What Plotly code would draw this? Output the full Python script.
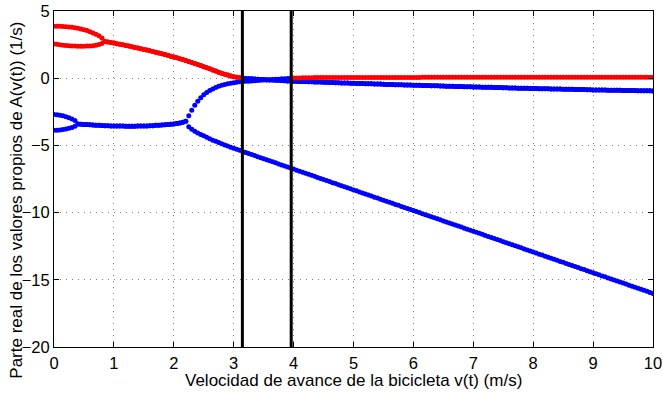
import plotly.graph_objects as go

# Velocidad de avance (m/s), paso de 0.05
v = [round(0.05 * i, 2) for i in range(201)]

# Parte real de los autovalores de A(v) por modo --------------------------
# v = 0.00 .. 0.80 : dos autovalores reales positivos
re_pos_sup = [3.86, 3.86, 3.86, 3.85, 3.83, 3.81, 3.79, 3.76, 3.72, 3.67,
              3.61, 3.54, 3.46, 3.37, 3.27, 3.15, 3.00]
re_pos_inf = [2.55, 2.52, 2.49, 2.46, 2.44, 2.42, 2.40, 2.39, 2.38, 2.38,
              2.38, 2.39, 2.40, 2.42, 2.45, 2.50, 2.58]

# v = 0.00 .. 0.35 : dos autovalores reales negativos
re_neg_sup = [-2.70, -2.72, -2.75, -2.80, -2.87, -2.94, -3.03, -3.14]
re_neg_inf = [-3.88, -3.87, -3.85, -3.82, -3.78, -3.73, -3.67, -3.58]

# v = 0.40 .. 2.20 : par complejo estable
re_par_neg = [-3.40, -3.42, -3.44, -3.45, -3.47, -3.48, -3.50, -3.51, -3.52, -3.53,
              -3.54, -3.55, -3.55, -3.56, -3.56, -3.56, -3.57, -3.57, -3.57, -3.57,
              -3.56, -3.56, -3.55, -3.55, -3.54, -3.53, -3.51, -3.50, -3.48, -3.46,
              -3.44, -3.42, -3.40, -3.37, -3.33, -3.28, -3.21]

# v = 0.85 .. 10.00 : modo de oscilacion (weave)
re_oscilacion = [
    2.73, 2.69, 2.65, 2.61, 2.57, 2.52, 2.48, 2.43, 2.39, 2.34,
    2.29, 2.24, 2.19, 2.14, 2.09, 2.04, 1.98, 1.93, 1.87, 1.82,
    1.76, 1.70, 1.64, 1.58, 1.52, 1.45, 1.39, 1.32, 1.25, 1.17,
    1.10, 1.02, 0.94, 0.86, 0.78, 0.70, 0.61, 0.53, 0.45, 0.37,
    0.30, 0.23, 0.17, 0.11, 0.07, 0.03,
    -0.01, -0.02, -0.04, -0.05, -0.06, -0.08, -0.09, -0.10, -0.11, -0.13,
    -0.14, -0.15, -0.16, -0.18, -0.19, -0.20, -0.21, -0.22,
    -0.23, -0.24, -0.24, -0.25, -0.26, -0.27, -0.28, -0.28, -0.29, -0.30,
    -0.31, -0.32, -0.32, -0.33, -0.34, -0.35, -0.36, -0.36, -0.37, -0.38,
    -0.39, -0.39, -0.40, -0.41, -0.42, -0.42, -0.43, -0.44, -0.44, -0.45,
    -0.46, -0.46, -0.47, -0.48, -0.49, -0.49, -0.50, -0.51, -0.51, -0.52,
    -0.53, -0.53, -0.54, -0.55, -0.55, -0.56, -0.57, -0.57, -0.58, -0.58,
    -0.59, -0.60, -0.60, -0.61, -0.62, -0.62, -0.63, -0.64, -0.64, -0.65,
    -0.65, -0.66, -0.67, -0.67, -0.68, -0.68, -0.69, -0.69, -0.70, -0.71,
    -0.71, -0.72, -0.72, -0.73, -0.74, -0.74, -0.75, -0.75, -0.76, -0.77,
    -0.77, -0.78, -0.78, -0.79, -0.79, -0.80, -0.80, -0.81, -0.81, -0.82,
    -0.82, -0.83, -0.83, -0.84, -0.84, -0.85, -0.85, -0.86, -0.86, -0.87,
    -0.87, -0.88, -0.88, -0.88, -0.89, -0.89, -0.90, -0.90, -0.90, -0.91,
    -0.91, -0.92, -0.92, -0.92, -0.93, -0.93, -0.94, -0.94, -0.94, -0.95]

# v = 2.25 .. 10.00 : modo de vuelco (capsize)
re_vuelco = [
    -2.80, -2.38, -2.02, -1.72, -1.46, -1.24, -1.06, -0.92, -0.80, -0.69,
    -0.60, -0.52, -0.46, -0.41, -0.37, -0.33, -0.30, -0.27, -0.25,
    -0.23, -0.22, -0.20, -0.19, -0.17, -0.16, -0.14, -0.13, -0.11, -0.10,
    -0.08, -0.07, -0.05, -0.04, -0.02, -0.01,
    0.01, 0.02, 0.02, 0.03, 0.03, 0.04, 0.04, 0.05, 0.05, 0.05, 0.05,
    0.05, 0.05, 0.05, 0.05, 0.05, 0.06, 0.06, 0.06, 0.06, 0.06,
    0.06, 0.06, 0.06, 0.06, 0.06, 0.06, 0.06, 0.06, 0.06, 0.06,
    0.06, 0.06, 0.06, 0.06, 0.06, 0.06, 0.06, 0.06, 0.06, 0.06,
    0.06, 0.06, 0.07, 0.07, 0.07, 0.07, 0.07, 0.07, 0.07, 0.07,
    0.07, 0.07, 0.07, 0.07, 0.07, 0.07, 0.07, 0.07, 0.07, 0.07,
    0.07, 0.07, 0.07, 0.07, 0.07, 0.07, 0.07, 0.07, 0.07, 0.07,
    0.07, 0.07, 0.07, 0.07, 0.07, 0.07, 0.07, 0.07, 0.07, 0.07,
    0.07, 0.07, 0.07, 0.07, 0.07, 0.07, 0.07, 0.07, 0.07, 0.07,
    0.07, 0.07, 0.07, 0.07, 0.07, 0.07, 0.07, 0.07, 0.07, 0.07,
    0.07, 0.07, 0.07, 0.07, 0.07, 0.07, 0.07, 0.07, 0.07, 0.07,
    0.07, 0.07, 0.07, 0.07, 0.07, 0.07, 0.07, 0.07, 0.07, 0.07]

# v = 2.25 .. 10.00 : modo de avance (castor)
re_avance = [
    -3.62, -3.80, -3.95, -4.07, -4.18, -4.29, -4.40, -4.50, -4.61, -4.70,
    -4.79, -4.88, -4.97, -5.05, -5.13, -5.21, -5.29, -5.37, -5.45,
    -5.53, -5.61, -5.68, -5.76, -5.84, -5.92, -5.99, -6.07, -6.15, -6.22,
    -6.30, -6.38, -6.46, -6.53, -6.61, -6.69, -6.76, -6.84, -6.92, -7.00,
    -7.07, -7.15, -7.23, -7.30, -7.38, -7.46, -7.54, -7.61, -7.69, -7.77,
    -7.84, -7.92, -8.00, -8.07, -8.15, -8.23, -8.31, -8.38, -8.46, -8.54,
    -8.61, -8.69, -8.77, -8.85, -8.92, -9.00, -9.08, -9.15, -9.23, -9.31,
    -9.39, -9.46, -9.54, -9.62, -9.69, -9.77, -9.85, -9.92, -10.00, -10.08,
    -10.16, -10.23, -10.31, -10.39, -10.46, -10.54, -10.62, -10.70, -10.77, -10.85,
    -10.93, -11.00, -11.08, -11.16, -11.24, -11.31, -11.39, -11.47, -11.54, -11.62,
    -11.70, -11.78, -11.85, -11.93, -12.01, -12.08, -12.16, -12.24, -12.31, -12.39,
    -12.47, -12.55, -12.62, -12.70, -12.78, -12.85, -12.93, -13.01, -13.09, -13.16,
    -13.24, -13.32, -13.39, -13.47, -13.55, -13.63, -13.70, -13.78, -13.86, -13.93,
    -14.01, -14.09, -14.17, -14.24, -14.32, -14.40, -14.47, -14.55, -14.63, -14.71,
    -14.78, -14.86, -14.94, -15.01, -15.09, -15.17, -15.24, -15.32, -15.40, -15.48,
    -15.55, -15.63, -15.71, -15.78, -15.86, -15.94, -16.02]

# Velocidades de estabilidad: oscilacion y vuelco (m/s)
velocidades_criticas = [3.145, 3.96]

x_ticks = [0, 1, 2, 3, 4, 5, 6, 7, 8, 9, 10]
y_ticks = [5, 0, -5, -10, -15, -20]
x_lim = [0, 10]
y_lim = [-20, 5]

# (primer indice de v, valores) para cada rama
ramas = [
    (0, re_pos_sup), (0, re_pos_inf),
    (0, re_neg_sup), (0, re_neg_inf),
    (8, re_par_neg), (8, re_par_neg),
    (17, re_oscilacion), (17, re_oscilacion),
    (45, re_vuelco), (45, re_avance),
]

xs_pos, ys_pos, xs_neg, ys_neg = [], [], [], []
for i0, vals in ramas:
    assert i0 + len(vals) <= len(v)
    for k, r in enumerate(vals):
        if r > 0:
            xs_pos.append(v[i0 + k]); ys_pos.append(r)
        else:
            xs_neg.append(v[i0 + k]); ys_neg.append(r)

fig = go.Figure()
fig.add_trace(go.Scatter(x=xs_neg, y=ys_neg, mode="markers",
                         marker=dict(color="#0000ff", size=5, line=dict(width=0)),
                         showlegend=False, hoverinfo="skip"))
fig.add_trace(go.Scatter(x=xs_pos, y=ys_pos, mode="markers",
                         marker=dict(color="#ff0000", size=5, line=dict(width=0)),
                         showlegend=False, hoverinfo="skip"))
for vc in velocidades_criticas:
    fig.add_trace(go.Scatter(x=[vc, vc], y=y_lim, mode="lines",
                             line=dict(color="black", width=3),
                             showlegend=False, hoverinfo="skip"))

font_family = "Liberation Sans"
axis_common = dict(
    showline=True, linecolor="black", linewidth=1, mirror="ticks",
    ticks="inside", ticklen=5, tickcolor="black", tickwidth=1,
    showgrid=True, gridcolor="#7f7f7f", griddash="1px,5px", gridwidth=1,
    zeroline=False, automargin=False,
    tickfont=dict(family=font_family, size=16.5, color="black"),
)

fig.update_xaxes(range=x_lim, tickvals=x_ticks, ticklabelstandoff=1, **axis_common)
fig.update_yaxes(range=y_lim, tickvals=y_ticks, **axis_common)

fig.update_layout(
    width=663, height=394,
    margin=dict(l=54, r=10, t=11, b=47),
    paper_bgcolor="white", plot_bgcolor="white",
    font=dict(family=font_family, color="black"),
    annotations=[
        dict(text="Velocidad de avance de la bicicleta v(t) (m/s)",
             xref="paper", yref="paper", x=0.5, y=-0.1,
             xanchor="center", yanchor="middle", showarrow=False,
             font=dict(size=17, family=font_family, color="black")),
        dict(text="Parte real de los valores propios de A(v(t)) (1/s)",
             xref="paper", yref="paper", x=-0.062, y=0.438, textangle=-90,
             xanchor="center", yanchor="middle", showarrow=False,
             font=dict(size=17, family=font_family, color="black")),
    ],
)

fig.write_html("out.html")
